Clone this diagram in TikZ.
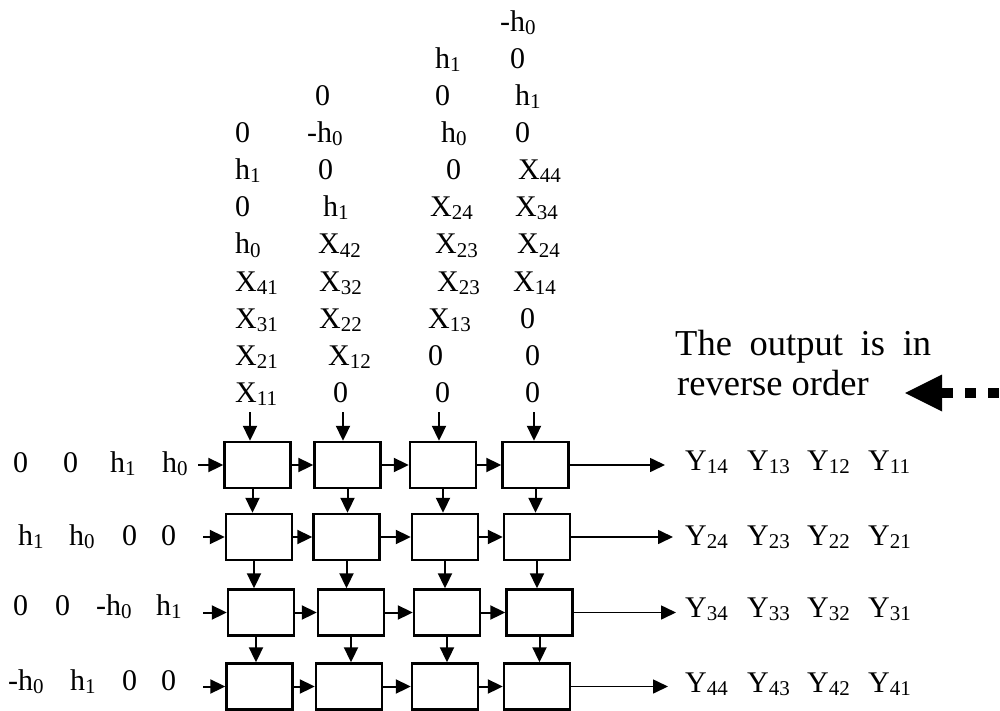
\documentclass[tikz,border=0pt]{standalone}
\usepackage{fontspec}
\setmainfont{Liberation Serif}
\usetikzlibrary{arrows.meta}
\newcommand\sbs[1]{\raisebox{-3pt}{\fontsize{21}{21}\selectfont #1}}
\begin{document}
\begin{tikzpicture}[x=1pt,y=-1pt,
  cell/.style={draw,line width=2.4pt,minimum width=66pt,minimum height=46pt,inner sep=0pt},
  lab/.style={anchor=base west,inner sep=0pt,font=\fontsize{30}{36}\selectfont},
  note/.style={anchor=base west,inner sep=0pt,font=\fontsize{36.5}{40}\selectfont},
  arr/.style={-{Triangle[length=15pt,width=14pt]},line width=2pt},
  outarr/.style={-{Triangle[length=15pt,width=14pt]},line width=1.6pt}]
\useasboundingbox (0,0) rectangle (1000,711);
% boxes
\node[cell] (r1c1) at (257.5,465) {};
\node[cell] (r1c2) at (347.5,465) {};
\node[cell] (r1c3) at (443,465) {};
\node[cell] (r1c4) at (535.5,465) {};
\node[cell] (r2c1) at (259,537) {};
\node[cell] (r2c2) at (346.5,537) {};
\node[cell] (r2c3) at (445,537) {};
\node[cell] (r2c4) at (537,537) {};
\node[cell] (r3c1) at (261,612.5) {};
\node[cell] (r3c2) at (351,612.5) {};
\node[cell] (r3c3) at (447,612.5) {};
\node[cell] (r3c4) at (539.5,612.5) {};
\node[cell] (r4c1) at (259.5,686.5) {};
\node[cell] (r4c2) at (349,686.5) {};
\node[cell] (r4c3) at (445,686.5) {};
\node[cell] (r4c4) at (537,686.5) {};
% horizontal connectors
\foreach \r in {1,2,3,4}{
  \draw[arr] (r\r c1.east) -- (r\r c2.west);
  \draw[arr] (r\r c2.east) -- (r\r c3.west);
  \draw[arr] (r\r c3.east) -- (r\r c4.west);
}
% vertical connectors
\foreach \r/\s in {1/2,2/3,3/4}{
  \draw[arr] ([xshift=-5pt]r\r c1.south) -- ([xshift=-5pt]r\r c1.south |- r\s c1.north);
  \draw[arr] (r\r c2.south) -- (r\r c2.south |- r\s c2.north);
  \draw[arr] (r\r c3.south) -- (r\r c3.south |- r\s c3.north);
  \draw[arr] (r\r c4.south) -- (r\r c4.south |- r\s c4.north);
}
% top inputs
\coordinate (t1) at (250,412);
\coordinate (t2) at (343,412);
\coordinate (t3) at (439,412);
\coordinate (t4) at (534,412);
\draw[arr] (t1) -- (t1 |- r1c1.north);
\draw[arr] (t2) -- (t2 |- r1c2.north);
\draw[arr] (t3) -- (t3 |- r1c3.north);
\draw[arr] (t4) -- (t4 |- r1c4.north);
% left inputs
\coordinate (l1) at (198,465);
\coordinate (l2) at (203,537);
\coordinate (l3) at (203,612.5);
\coordinate (l4) at (203,686.5);
\draw[arr] (l1) -- (r1c1.west);
\draw[arr] (l2) -- (r2c1.west);
\draw[arr] (l3) -- (r3c1.west);
\draw[arr] (l4) -- (r4c1.west);
% outputs
\coordinate (o1) at (665,465);
\coordinate (o2) at (673,537);
\coordinate (o3) at (676,612.5);
\coordinate (o4) at (668,686.5);
\draw[outarr] (r1c4.east) -- (o1);
\draw[outarr] (r2c4.east) -- (o2);
\draw[outarr] (r3c4.east) -- (o3);
\draw[outarr] (r4c4.east) -- (o4);
% top matrix labels
\node[lab] (a1) at (500,32) {-h\sbs{0}};
\node[lab] (b1) at (435,69) {h\sbs{1}};
\node[lab] (b2) at (510,69) {0};
\node[lab] (c1) at (315,106) {0};
\node[lab] (c2) at (435,106) {0};
\node[lab] (c3) at (515,106) {h\sbs{1}};
\node[lab] (d1) at (235,143) {0};
\node[lab] (d2) at (307,143) {-h\sbs{0}};
\node[lab] (d3) at (441,143) {h\sbs{0}};
\node[lab] (d4) at (515,143) {0};
\node[lab] (e1) at (235,180) {h\sbs{1}};
\node[lab] (e2) at (318,180) {0};
\node[lab] (e3) at (446,180) {0};
\node[lab] (e4) at (518,180) {X\sbs{44}};
\node[lab] (f1) at (235,217) {0};
\node[lab] (f2) at (323,217) {h\sbs{1}};
\node[lab] (f3) at (430,217) {X\sbs{24}};
\node[lab] (f4) at (515,217) {X\sbs{34}};
\node[lab] (g1) at (235,254) {h\sbs{0}};
\node[lab] (g2) at (318,254) {X\sbs{42}};
\node[lab] (g3) at (435,254) {X\sbs{23}};
\node[lab] (g4) at (517,254) {X\sbs{24}};
\node[lab] (h1) at (235,291) {X\sbs{41}};
\node[lab] (h2) at (319,291) {X\sbs{32}};
\node[lab] (h3) at (437,291) {X\sbs{23}};
\node[lab] (h4) at (513,291) {X\sbs{14}};
\node[lab] (i1) at (235,328) {X\sbs{31}};
\node[lab] (i2) at (319,328) {X\sbs{22}};
\node[lab] (i3) at (428,328) {X\sbs{13}};
\node[lab] (i4) at (520,328) {0};
\node[lab] (j1) at (235,365) {X\sbs{21}};
\node[lab] (j2) at (328,365) {X\sbs{12}};
\node[lab] (j3) at (428,365) {0};
\node[lab] (j4) at (525,365) {0};
\node[lab] (k1) at (235,402) {X\sbs{11}};
\node[lab] (k2) at (333,402) {0};
\node[lab] (k3) at (435,402) {0};
\node[lab] (k4) at (525,402) {0};
% left labels
\node[lab] (p11) at (13,472) {0};
\node[lab] (p12) at (63,472) {0};
\node[lab] (p13) at (110,472) {h\sbs{1}};
\node[lab] (p14) at (162,472) {h\sbs{0}};
\node[lab] (p21) at (18,545) {h\sbs{1}};
\node[lab] (p22) at (69,545) {h\sbs{0}};
\node[lab] (p23) at (122,545) {0};
\node[lab] (p24) at (161,545) {0};
\node[lab] (p31) at (13,615) {0};
\node[lab] (p32) at (55,615) {0};
\node[lab] (p33) at (96,615) {-h\sbs{0}};
\node[lab] (p34) at (156,615) {h\sbs{1}};
\node[lab] (p41) at (8,690) {-h\sbs{0}};
\node[lab] (p42) at (70,690) {h\sbs{1}};
\node[lab] (p43) at (122,690) {0};
\node[lab] (p44) at (161,690) {0};
% right outputs
\foreach \i/\y in {1/470,2/545,3/617,4/692}{
  \node[lab] (y\i a) at (685,\y) {Y\sbs{\i4}};
  \node[lab] (y\i b) at (747,\y) {Y\sbs{\i3}};
  \node[lab] (y\i c) at (807,\y) {Y\sbs{\i2}};
  \node[lab] (y\i d) at (868,\y) {Y\sbs{\i1}};
}
% note
\node[note] (n1) at (675,355) {\makebox[256pt][s]{The output is in}};
\node[note] (n2) at (677,395) {reverse order};
% dashed big arrow
\coordinate (ah) at (905,393);
\coordinate (ab) at (942,393);
\coordinate (ae) at (1000,393);
\fill (ah) -- ([yshift=18.5pt]ab) -- ([yshift=-18.5pt]ab) -- cycle;
\draw[line width=10pt,dash pattern=on 11pt off 12pt] (ab) -- (ae);
\end{tikzpicture}
\end{document}
